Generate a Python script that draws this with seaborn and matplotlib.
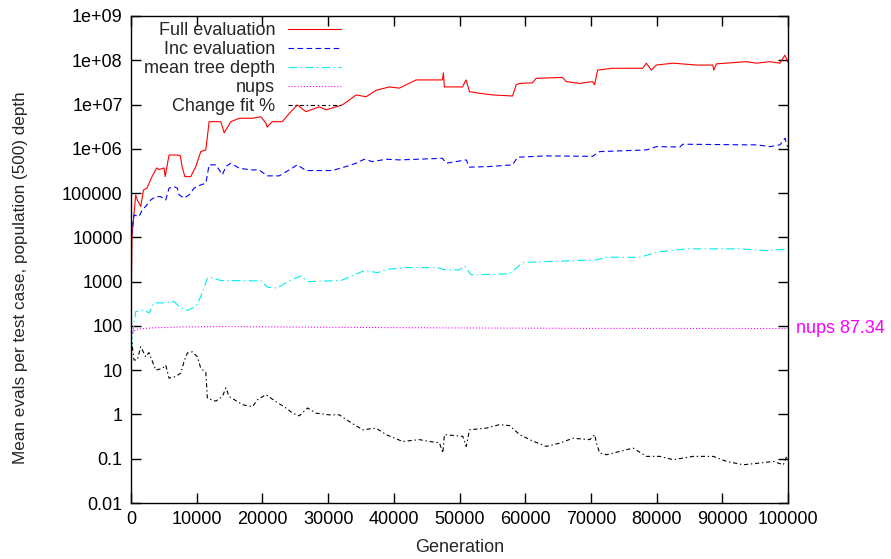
import numpy as np
import pandas as pd
import matplotlib
matplotlib.use("Agg")
import matplotlib.pyplot as plt
import matplotlib.transforms as mtransforms
from matplotlib.ticker import FixedLocator, FixedFormatter, NullLocator
import seaborn as sns

# ---------------- data ----------------
full_gen = [0, 150, 716, 960, 1480, 1900, 2440, 3200, 3900, 4270, 5030, 5200, 5790, 7010, 7500,
            7770, 8200, 9100, 9860, 10620, 11390, 11890, 13670, 14180, 15200, 16460, 18440, 19770,
            20530, 20730, 21490, 23020, 24090, 25310, 26630, 28660, 29680, 32160, 33230, 34250,
            35780, 37300, 39330, 40850, 43390, 47400, 47550, 47700, 50440, 51000, 51520, 53040,
            55020, 58070, 58630, 59130, 61110, 61680, 65680, 66250, 68280, 70260, 70560, 71020,
            73300, 77880, 78440, 79200, 79960, 82520, 86060, 88550, 88700, 89110, 93680, 95210,
            97230, 98760, 99520, 100000]
full_val = [100, 10500, 91000, 70000, 50000, 117000, 130000, 236000, 370000, 340000, 370000,
            236000, 725000, 725000, 700000, 398000, 236000, 236000, 398000, 865000, 950000, 4.1e6,
            4.1e6, 2.3e6, 4.1e6, 4.9e6, 4.9e6, 5.3e6, 3.8e6, 3.1e6, 4.1e6, 4.1e6, 6.3e6, 9.8e6,
            6.9e6, 8.9e6, 7.6e6, 9.8e6, 1.27e7, 1.65e7, 1.5e7, 2.1e7, 2.5e7, 2.35e7, 3.6e7, 3.6e7,
            5.2e7, 2.5e7, 2.5e7, 3.6e7, 1.95e7, 1.8e7, 1.65e7, 1.56e7, 2.8e7, 3.0e7, 3.1e7, 3.9e7,
            4.1e7, 3.3e7, 3.0e7, 3.3e7, 2.8e7, 6.0e7, 6.6e7, 6.6e7, 8.6e7, 6.0e7, 7.8e7, 8.6e7,
            7.8e7, 7.8e7, 6.0e7, 8.3e7, 9.3e7, 8.6e7, 9.3e7, 8.6e7, 1.3e8, 9.0e7]

inc_gen = [0, 50, 460, 1220, 1720, 2240, 3000, 3770, 4530, 5290, 5790, 6550, 7060, 7320, 8080,
           8840, 9600, 10620, 11390, 11890, 12910, 13920, 14440, 15200, 16460, 18250, 19510,
           20730, 22560, 24090, 25310, 26630, 30640, 32730, 34250, 35520, 36740, 38830, 40850,
           47400, 47970, 51020, 51520, 54570, 58070, 58840, 63220, 70260, 71330, 78460, 79980,
           83540, 84000, 93700, 95230, 97260, 98780, 99540, 99800, 100000]
inc_val = [100, 10500, 32000, 29500, 42000, 50000, 70000, 83000, 83000, 70000, 129000, 140000,
           129000, 91000, 77000, 91000, 129000, 153000, 167000, 435000, 435000, 260000, 400000,
           473000, 365000, 334000, 334000, 245000, 245000, 334000, 435000, 323000, 323000, 398000,
           473000, 582000, 514000, 582000, 562000, 610000, 473000, 562000, 385000, 398000, 435000,
           646000, 692000, 677000, 865000, 944000, 1.12e6, 1.1e6, 1.27e6, 1.23e6, 1.23e6, 1.12e6,
           1.23e6, 1.74e6, 1.23e6, 1.1e6]

depth_gen = [0, 50, 460, 720, 1980, 2740, 3510, 5030, 6550, 7320, 8580, 9860, 10620, 11630,
             12150, 13670, 19770, 20780, 22300, 23830, 25870, 26880, 31970, 33990, 35520, 37550,
             39070, 42120, 46690, 47710, 50000, 50760, 51780, 57620, 59650, 63220, 70840, 72360,
             77440, 79980, 84560, 92680, 96750, 99800, 100000]
depth_val = [30, 29, 117, 211, 231, 195, 331, 331, 355, 275, 222, 275, 460, 1200, 1260, 1060,
             1040, 750, 713, 1000, 1350, 1000, 1060, 1420, 1780, 1600, 1910, 2080, 2080, 1850,
             1850, 2270, 1420, 1500, 2700, 2840, 3100, 3570, 3530, 4630, 5500, 5500, 5040, 5400,
             5300]

nups_gen = [0, 300, 1000, 3000, 8000, 15000, 30000, 50000, 70000, 100000]
nups_val = [60, 75, 85, 90, 95, 97, 93, 90, 88, 87.34]
nups_final = 87.34

fit_gen = [0, 200, 460, 960, 1480, 2240, 2740, 3770, 4770, 5290, 5790, 6810, 7580, 8080, 8580,
           9340, 10110, 10620, 11390, 11630, 12910, 13920, 14440, 14940, 16970, 18490, 19250,
           20530, 22060, 23580, 24590, 25610, 26880, 28160, 30180, 31710, 33230, 35260, 37300,
           38830, 41360, 43900, 45430, 46950, 47460, 47710, 50500, 51020, 51520, 54070, 56100,
           57620, 59150, 61180, 63220, 65240, 67270, 69810, 70580, 70840, 71330, 72360, 74380,
           76420, 78460, 80490, 82520, 85570, 88620, 90650, 93190, 95730, 97760, 99280, 99800,
           100000]
fit_val = [60, 34, 17, 17, 34, 20, 25, 10, 11, 13, 6.6, 7.2, 8.6, 15.8, 24.5, 26, 20, 11, 8.9,
           2.3, 2.0, 2.55, 4.0, 2.55, 1.66, 1.5, 2.15, 2.8, 1.95, 1.4, 1.07, 0.93, 1.4, 1.07, 0.98,
           0.98, 0.69, 0.45, 0.49, 0.35, 0.245, 0.27, 0.245, 0.23, 0.135, 0.35, 0.32, 0.19, 0.45,
           0.49, 0.59, 0.56, 0.35, 0.25, 0.19, 0.225, 0.29, 0.27, 0.35, 0.225, 0.135, 0.123, 0.146,
           0.174, 0.113, 0.113, 0.095, 0.113, 0.113, 0.087, 0.073, 0.08, 0.087, 0.073, 0.113, 0.1]

x_ticks = [0, 10000, 20000, 30000, 40000, 50000, 60000, 70000, 80000, 90000, 100000]
x_tick_labels = ["0", "10000", "20000", "30000", "40000", "50000", "60000", "70000", "80000",
                 "90000", "100000"]
y_ticks = [1e9, 1e8, 1e7, 1e6, 1e5, 1e4, 1e3, 1e2, 1e1, 1e0, 1e-1, 1e-2]
y_tick_labels = ["1e+09", "1e+08", "1e+07", "1e+06", "100000", "10000", "1000", "100", "10",
                 "1", "0.1", "0.01"]

# ---------------- style ----------------
sns.set_style("ticks")
plt.rcParams["font.family"] = ["Liberation Sans", "DejaVu Sans"]
FS = 13
plt.rcParams["font.size"] = FS
plt.rcParams["lines.scale_dashes"] = False

fig = plt.figure(figsize=(8.91, 5.59), dpi=100)
ax = fig.add_axes([131 / 891, 1 - 503 / 559, (788 - 131) / 891, (503 - 16) / 559])

lw = 0.8
sns.lineplot(x=full_gen, y=full_val, ax=ax, color="#ff0000", lw=lw, linestyle="-",
             label="Full evaluation", sort=False, estimator=None)
sns.lineplot(x=inc_gen, y=inc_val, ax=ax, color="#0000ff", lw=lw, linestyle=(0, (4, 2.5)),
             label="Inc evaluation", sort=False, estimator=None)
sns.lineplot(x=depth_gen, y=depth_val, ax=ax, color="#00eeee", lw=lw,
             linestyle=(0, (6, 2.5, 1, 2.5)), label="mean tree depth", sort=False, estimator=None)
sns.lineplot(x=nups_gen, y=nups_val, ax=ax, color="#ff00ff", lw=lw, linestyle=(0, (0.8, 1.4)),
             label="nups", sort=False, estimator=None)
sns.lineplot(x=fit_gen, y=fit_val, ax=ax, color="#000000", lw=lw, linestyle=(0, (3, 2, 1, 2)),
             label="Change fit %", sort=False, estimator=None)

ax.set_yscale("log")
ax.set_xlim(0, 100000)
ax.set_ylim(1e-2, 1e9)
ax.xaxis.set_major_locator(FixedLocator(x_ticks))
ax.xaxis.set_major_formatter(FixedFormatter(x_tick_labels))
ax.yaxis.set_major_locator(FixedLocator(y_ticks))
ax.yaxis.set_major_formatter(FixedFormatter(y_tick_labels))
ax.yaxis.set_minor_locator(NullLocator())
ax.xaxis.set_minor_locator(NullLocator())
ax.tick_params(which="both", direction="in", length=7, width=1, top=True, right=True,
               labelsize=FS, colors="black", pad=6)
for sp in ax.spines.values():
    sp.set_visible(True)
    sp.set_color("black")
    sp.set_linewidth(1.0)

ax.set_xlabel("Generation", fontsize=FS, labelpad=8)
ax.set_ylabel("Mean evals per test case, population (500) depth", fontsize=12.3)
ax.yaxis.set_label_coords(-0.157, 0.462)

leg = ax.legend(loc="upper right", bbox_to_anchor=(0.335, 1.008), markerfirst=False,
                frameon=False, borderpad=0.05, labelspacing=0.11, handlelength=2.93,
                handletextpad=0.72, fontsize=FS)

trans = mtransforms.blended_transform_factory(ax.transAxes, ax.transData)
ax.text(1.012, nups_final, f"nups {nups_final}", transform=trans, color="#ff00ff",
        ha="left", va="center", fontsize=FS)

fig.savefig("out.png", dpi=100)
